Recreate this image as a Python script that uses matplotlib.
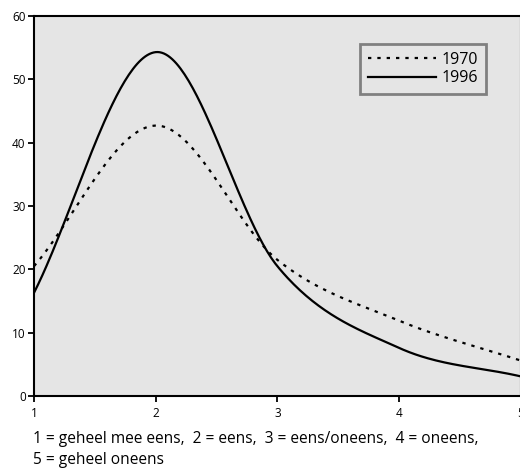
import numpy as np
import matplotlib.pyplot as plt

plt.rcParams['font.family'] = ['Open Sans', 'DejaVu Sans']

# antwoordcategorie 1..5, percentages
categories = [1, 2, 3, 4, 5]
y1970 = [20.5, 42.7, 21.5, 11.9, 5.6]
y1996 = [16.3, 54.3, 20.5, 7.6, 3.1]
tick_labels = ['1', '2', '3', '4', '5']
caption1 = "1 = geheel mee eens,  2 = eens,  3 = eens/oneens,  4 = oneens,"
caption2 = "5 = geheel oneens"


def smooth(x, y, n=60):
    # Catmull-Rom (zoals "vloeiende lijn"), alleen om de lijn glad te tekenen
    x = np.asarray(x, float)
    y = np.asarray(y, float)
    m = np.zeros_like(y)
    m[1:-1] = (y[2:] - y[:-2]) / (x[2:] - x[:-2])
    m[0] = (y[1] - y[0]) / (x[1] - x[0])
    m[-1] = (y[-1] - y[-2]) / (x[-1] - x[-2])
    xs_all, ys_all = [], []
    for i in range(len(x) - 1):
        h = x[i + 1] - x[i]
        t = np.linspace(0, 1, n)
        h00 = 2 * t**3 - 3 * t**2 + 1
        h10 = t**3 - 2 * t**2 + t
        h01 = -2 * t**3 + 3 * t**2
        h11 = t**3 - t**2
        xs_all.append(x[i] + t * h)
        ys_all.append(h00 * y[i] + h10 * h * m[i] + h01 * y[i + 1] + h11 * h * m[i + 1])
    return np.concatenate(xs_all), np.concatenate(ys_all)


fig = plt.figure(figsize=(5.2, 4.7), dpi=100)
ax = fig.add_axes([0.0654, 0.1574, 0.936, 0.8085])
ax.set_facecolor('#e5e5e5')

xs, ys = smooth(categories, y1970)
ax.plot(xs, ys, color='black', lw=1.6, linestyle=(0, (1.5, 2.7)), label='1970')
xs, ys = smooth(categories, y1996)
ax.plot(xs, ys, color='black', lw=1.6, label='1996')

ax.set_xlim(1, 5)
ax.set_ylim(0, 60)
ax.set_xticks(categories)
ax.set_xticklabels(tick_labels)
ax.set_yticks([0, 10, 20, 30, 40, 50, 60])
ax.tick_params(length=4, width=1.3, labelsize=8.5)
ax.tick_params(axis='x', pad=4)
ax.tick_params(axis='y', pad=2)
for s in ax.spines.values():
    s.set_linewidth(1.5)

leg = ax.legend(loc='upper right', bbox_to_anchor=(0.928, 0.927), frameon=True,
                fancybox=False, fontsize=11.5, handlelength=4.3,
                handletextpad=0.3, labelspacing=0.15, borderpad=0.5,
                borderaxespad=0, edgecolor='#808080', facecolor='#e5e5e5',
                framealpha=1)
leg.get_frame().set_linewidth(2)

fig.text(0.0635, 1 - 443 / 470, caption1, fontsize=11.2, ha='left', va='baseline')
fig.text(0.0635, 1 - 464 / 470, caption2, fontsize=11.2, ha='left', va='baseline')

fig.savefig('out.png', dpi=100)
